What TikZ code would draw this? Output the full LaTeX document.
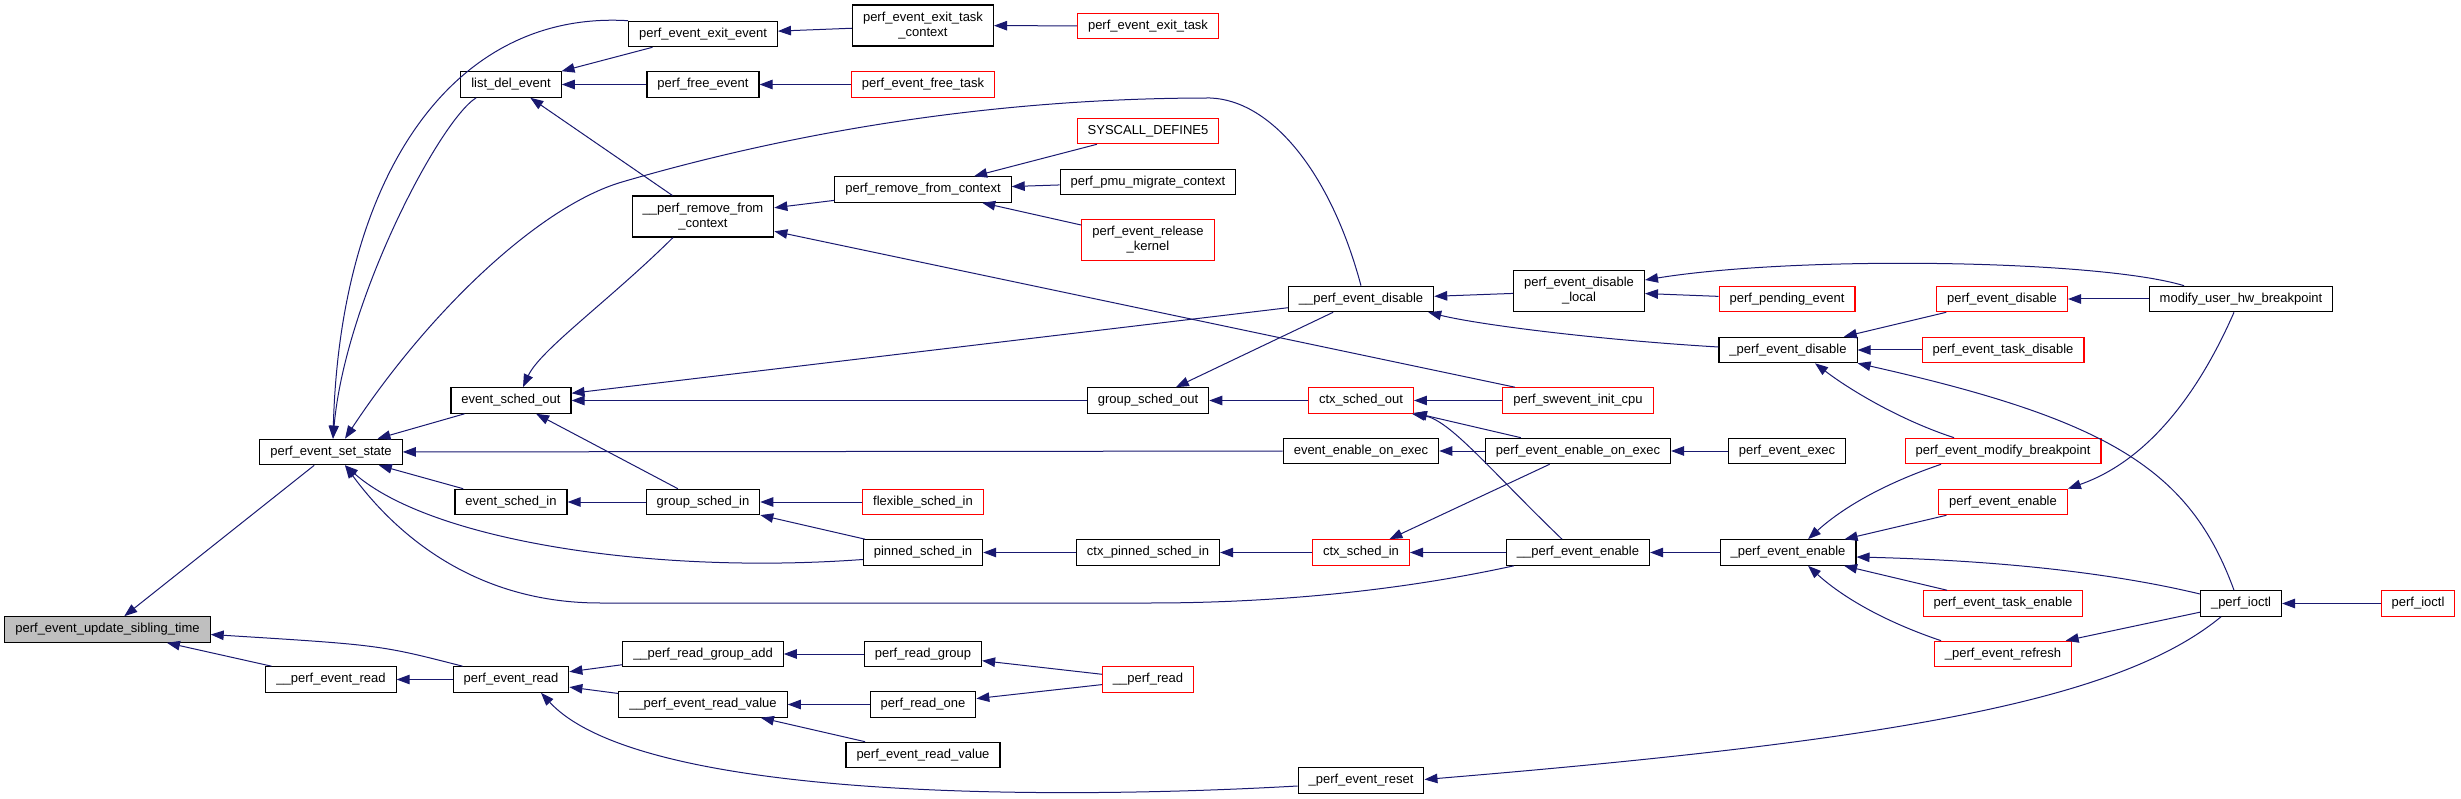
\documentclass[tikz,border=0pt]{standalone}
\usepackage{fontspec}
\usepackage{tikz}
\usetikzlibrary{shapes, arrows.meta}
\newfontfamily\dxfont{Liberation Sans}
\definecolor{dxblue}{RGB}{25, 25, 112}
\definecolor{dxred}{RGB}{255, 0, 0}
\definecolor{dxgray}{RGB}{191, 191, 191}
\tikzset{
  fnbox/.style={draw=black, fill=white, line width=1.1pt, minimum height=25.5pt, inner xsep=10.5pt, inner ysep=2pt, font=\dxfont\fontsize{13}{15}\selectfont},
  fnred/.style={fnbox, draw=dxred},
  fnroot/.style={fnbox, fill=dxgray},
  twoline/.style={minimum height=41pt, align=center},
  callarrow/.style={-{Triangle[length=13pt, width=9.5pt]}, line width=1pt, dxblue}
}
\begin{document}
\begin{tikzpicture}[x=1pt, y=-1pt]
\useasboundingbox (0,0) rectangle (2461,799);
\node[fnroot] (sib) at (107.5,629.5) {perf\_event\_update\_sibling\_time};
\node[fnbox] (setst) at (331,452) {perf\_event\_set\_state};
\node[fnbox] (pevrd) at (331,679.5) {\_\_perf\_event\_read};
\node[fnbox] (lde) at (511,84.5) {list\_del\_event};
\node[fnbox] (eso) at (511,400.5) {event\_sched\_out};
\node[fnbox] (esi) at (511,502) {event\_sched\_in};
\node[fnbox] (perd) at (511,679.5) {perf\_event\_read};
\node[fnbox] (exev) at (703,34) {perf\_event\_exit\_event};
\node[fnbox] (frev) at (703,84.5) {perf\_free\_event};
\node[fnbox, twoline] (rmctx) at (703,216.5) {\_\_perf\_remove\_from\\\_context};
\node[fnbox] (gsi) at (703,502) {group\_sched\_in};
\node[fnbox] (rga) at (703,654) {\_\_perf\_read\_group\_add};
\node[fnbox] (rdv) at (703,704.5) {\_\_perf\_event\_read\_value};
\node[fnbox, twoline] (etc) at (923,25.5) {perf\_event\_exit\_task\\\_context};
\node[fnred] (fret) at (923,84.5) {perf\_event\_free\_task};
\node[fnbox] (prfc) at (923,189.5) {perf\_remove\_from\_context};
\node[fnred] (flex) at (923,502) {flexible\_sched\_in};
\node[fnbox] (pin) at (923,552.5) {pinned\_sched\_in};
\node[fnbox] (prg) at (923,654) {perf\_read\_group};
\node[fnbox] (pro) at (923,704.5) {perf\_read\_one};
\node[fnbox] (perv) at (923,755) {perf\_event\_read\_value};
\node[fnred] (ext) at (1148,26) {perf\_event\_exit\_task};
\node[fnred] (sys) at (1148,131) {SYSCALL\_DEFINE5};
\node[fnbox] (pmu) at (1148,182) {perf\_pmu\_migrate\_context};
\node[fnred, twoline] (rel) at (1148,240) {perf\_event\_release\\\_kernel};
\node[fnbox] (gso) at (1148,400.5) {group\_sched\_out};
\node[fnbox] (cpsi) at (1148,552.5) {ctx\_pinned\_sched\_in};
\node[fnred] (prd) at (1148,679.5) {\_\_perf\_read};
\node[fnbox] (dis2) at (1361,299) {\_\_perf\_event\_disable};
\node[fnred] (cso) at (1361,400.5) {ctx\_sched\_out};
\node[fnbox] (eeoe) at (1361,451) {event\_enable\_on\_exec};
\node[fnred] (csi) at (1361,552.5) {ctx\_sched\_in};
\node[fnbox] (rst) at (1361,780.5) {\_perf\_event\_reset};
\node[fnbox, twoline] (dloc) at (1579,291) {perf\_event\_disable\\\_local};
\node[fnred] (swi) at (1578,400.5) {perf\_swevent\_init\_cpu};
\node[fnbox] (peoe) at (1578,451) {perf\_event\_enable\_on\_exec};
\node[fnbox] (ena2) at (1578,552.5) {\_\_perf\_event\_enable};
\node[fnred] (pend) at (1787,299) {perf\_pending\_event};
\node[fnbox] (dis1) at (1788,350) {\_perf\_event\_disable};
\node[fnbox] (exec) at (1787,451) {perf\_event\_exec};
\node[fnbox] (ena1) at (1788,552.5) {\_perf\_event\_enable};
\node[fnred] (dis) at (2002,299) {perf\_event\_disable};
\node[fnred] (tdis) at (2003,350) {perf\_event\_task\_disable};
\node[fnred] (mbp) at (2003,451) {perf\_event\_modify\_breakpoint};
\node[fnred] (ena) at (2003,502) {perf\_event\_enable};
\node[fnred] (tena) at (2003,603.5) {perf\_event\_task\_enable};
\node[fnred] (refr) at (2003,654) {\_perf\_event\_refresh};
\node[fnbox] (muhb) at (2241,299) {modify\_user\_hw\_breakpoint};
\node[fnbox] (ioc1) at (2241,603.5) {\_perf\_ioctl};
\node[fnred] (ioc) at (2418,603.5) {perf\_ioctl};
\draw[callarrow] (setst) -- (sib);
\draw[callarrow] (pevrd) -- (sib);
\draw[callarrow] ([xshift=10pt]perd.north west) .. controls (380,645) .. ([yshift=-5pt]sib.east);
\draw[callarrow] (perd) -- (pevrd);
\draw[callarrow] ([xshift=16pt]lde.south west) .. controls (440,120) and (345,300) .. ([xshift=2pt]setst.north);
\draw[callarrow] (exev.north west) .. controls (450,10) and (340,180) .. ([xshift=2pt]setst.north);
\draw[callarrow] (dis2.north) .. controls (1330,170) and (1270,100) .. (1210,98) .. controls (1000,98) and (800,130) .. (622,182) .. controls (540,206) and (430,310) .. ([xshift=14pt]setst.north);
\draw[callarrow] (exev) -- (lde);
\draw[callarrow] (frev) -- (lde);
\draw[callarrow] (rmctx) -- (lde);
\draw[callarrow] (etc) -- (exev);
\draw[callarrow] (ext) -- (etc);
\draw[callarrow] (fret) -- (frev);
\draw[callarrow] (prfc) -- (rmctx);
\draw[callarrow] (swi) -- (rmctx);
\draw[callarrow] ([xshift=-30pt]rmctx.south) .. controls (610,300) and (540,350) .. ([xshift=12pt]eso.north);
\draw[callarrow] (sys) -- (prfc);
\draw[callarrow] (pmu) -- (prfc);
\draw[callarrow] (rel) -- (prfc);
\draw[callarrow] (eso) -- (setst);
\draw[callarrow] (eeoe) -- (setst);
\draw[callarrow] (esi) -- (setst);
\draw[callarrow] ([yshift=-7pt]pin.west) .. controls (650,575) and (430,540) .. ([xshift=14pt]setst.south);
\draw[callarrow] ([xshift=8pt]ena2.south west) .. controls (1380,595) and (1250,603) .. (1150,603) -- (600,603) .. controls (480,603) and (400,540) .. ([xshift=14pt]setst.south);
\draw[callarrow] (gso) -- (eso);
\draw[callarrow] (dis2) -- (eso);
\draw[callarrow] (gsi) -- (eso);
\draw[callarrow] (gsi) -- (esi);
\draw[callarrow] (flex) -- (gsi);
\draw[callarrow] (pin) -- (gsi);
\draw[callarrow] (cpsi) -- (pin);
\draw[callarrow] (csi) -- (cpsi);
\draw[callarrow] (ena2) -- (csi);
\draw[callarrow] (peoe) -- (csi);
\draw[callarrow] (cso) -- (gso);
\draw[callarrow] (dis2) -- (gso);
\draw[callarrow] (swi) -- (cso);
\draw[callarrow] (peoe) -- (cso);
\draw[callarrow] ([xshift=-16pt]ena2.north) .. controls (1490,470) and (1450,420) .. ([xshift=-2pt]cso.south east);
\draw[callarrow] (peoe) -- (eeoe);
\draw[callarrow] (exec) -- (peoe);
\draw[callarrow] (dloc) -- (dis2);
\draw[callarrow] ([yshift=3pt]dis1.west) .. controls (1600,340) and (1480,325) .. ([xshift=-6pt]dis2.south east);
\draw[callarrow] ([xshift=-57pt]muhb.north) .. controls (2100,260) and (1800,255) .. ([yshift=11pt]dloc.east);
\draw[callarrow] (pend) -- (dloc);
\draw[callarrow] (dis) -- (dis1);
\draw[callarrow] (tdis) -- (dis1);
\draw[callarrow] ([xshift=-49pt]mbp.north) .. controls (1900,420) and (1850,390) .. ([xshift=27pt]dis1.south);
\draw[callarrow] ([xshift=-7pt]ioc1.north) .. controls (2190,470) and (2110,420) .. (dis1.south east);
\draw[callarrow] (muhb) -- (dis);
\draw[callarrow] ([xshift=-7pt]muhb.south) .. controls (2200,390) and (2150,460) .. (ena.north east);
\draw[callarrow] (ena1) -- (ena2);
\draw[callarrow] ([xshift=-62pt]mbp.south) .. controls (1880,485) and (1840,510) .. ([xshift=20pt]ena1.north);
\draw[callarrow] (ena) -- (ena1);
\draw[callarrow] ([yshift=9.5pt]ioc1.west) .. controls (2100,570) and (1980,560) .. ([yshift=-4.5pt]ena1.east);
\draw[callarrow] (tena) -- (ena1);
\draw[callarrow] ([xshift=-62pt]refr.north) .. controls (1880,620) and (1840,595) .. ([xshift=20pt]ena1.south);
\draw[callarrow] (ioc1) -- (refr);
\draw[callarrow] (ioc) -- (ioc1);
\draw[callarrow] ([xshift=-20pt]ioc1.south) .. controls (2120,700) and (1900,740) .. ([yshift=1pt]rst.east);
\draw[callarrow] (rga) -- (perd);
\draw[callarrow] (rdv) -- (perd);
\draw[callarrow] ([yshift=-5.5pt]rst.west) .. controls (1050,800) and (640,800) .. ([xshift=30pt]perd.south);
\draw[callarrow] (prg) -- (rga);
\draw[callarrow] (pro) -- (rdv);
\draw[callarrow] (perv) -- (rdv);
\draw[callarrow] (prd) -- (prg);
\draw[callarrow] (prd) -- (pro);
\end{tikzpicture}
\end{document}
